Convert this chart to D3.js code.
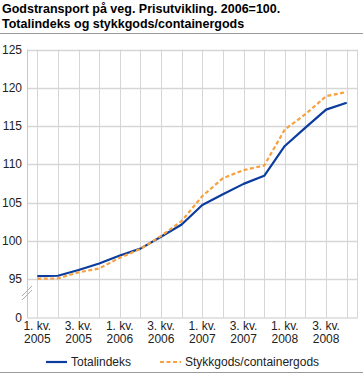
<!DOCTYPE html>
<html><head><meta charset="utf-8">
<script src="https://cdn.jsdelivr.net/npm/d3@7"></script>
<style>body{margin:0;background:#fff}svg{display:block;font-family:"Liberation Sans",Arial,sans-serif}</style>
</head><body><svg id="c" width="363" height="375"></svg>
<script>
const quarters = ["2005Q1","2005Q2","2005Q3","2005Q4","2006Q1","2006Q2","2006Q3","2006Q4","2007Q1","2007Q2","2007Q3","2007Q4","2008Q1","2008Q2","2008Q3","2008Q4"];
const tickLabels = {"2005Q1":["1. kv.","2005"],"2005Q3":["3. kv.","2005"],"2006Q1":["1. kv.","2006"],"2006Q3":["3. kv.","2006"],"2007Q1":["1. kv.","2007"],"2007Q3":["3. kv.","2007"],"2008Q1":["1. kv.","2008"],"2008Q3":["3. kv.","2008"]};
const totalindeks = [95.4,95.45,96.2,97.05,98.1,99.0,100.55,102.15,104.7,106.1,107.45,108.5,112.4,114.8,117.15,118.05];
const stykkgods = [95.05,95.1,95.9,96.4,97.8,98.95,100.65,102.6,105.85,108.2,109.25,109.85,114.55,116.55,118.9,119.45];
const yTicks = [95,100,105,110,115,120,125];
const seriesNames = ["Totalindeks","Stykkgods/containergods"];
const colors = ["#0b3c9e","#f7a040"];

const svg = d3.select("#c");
const L = 27, R = 357, T = 49.5, B = 317.5;
const x = d3.scaleBand().domain(quarters).range([L, R]);
const xc = q => x(q) + x.bandwidth()/2;
const step = (B - T) / 7;
const yLin = d3.scaleLinear().domain([95,125]).range([B - step, T]);
const y = v => yLin(v);

// title
const title = svg.append("g").attr("font-weight","bold").attr("font-size","12.5px").attr("fill","#000");
title.append("text").attr("x",2).attr("y",12.5).text("Godstransport på veg. Prisutvikling. 2006=100.");
title.append("text").attr("x",2).attr("y",27.5).text("Totalindeks og stykkgods/containergods");
svg.append("line").attr("x1",0).attr("x2",363).attr("y1",33.5).attr("y2",33.5).attr("stroke","#9a9a9a").attr("stroke-width",1);

// gridlines
const grid = svg.append("g");
grid.selectAll("line.v").data(quarters).join("line")
  .attr("x1",d=>Math.round(xc(d))+0.5).attr("x2",d=>Math.round(xc(d))+0.5)
  .attr("y1",T).attr("y2",B).attr("stroke","#d6d6d6");
grid.append("line").attr("x1",R+0.5).attr("x2",R+0.5).attr("y1",T).attr("y2",B).attr("stroke","#d6d6d6");
grid.selectAll("line.h").data(yTicks).join("line")
  .attr("x1",L).attr("x2",R).attr("y1",d=>Math.round(y(d))+0.5).attr("y2",d=>Math.round(y(d))+0.5)
  .attr("stroke","#d6d6d6").attr("stroke-width",1.5);
svg.append("line").attr("x1",L+0.5).attr("x2",L+0.5).attr("y1",T).attr("y2",B).attr("stroke","#c8c8c8");
svg.append("line").attr("x1",L).attr("x2",R+1).attr("y1",B+0.5).attr("y2",B+0.5).attr("stroke","#c8c8c8");
// axis break
[0,4].forEach(o=>{
  svg.append("line").attr("x1",22).attr("y1",296+o).attr("x2",32).attr("y2",286+o).attr("stroke","#b0b0b0").attr("stroke-width",1);
});

// y labels
const yl = svg.append("g").attr("font-size","12px").attr("fill","#222").attr("text-anchor","end");
yTicks.forEach(t=>yl.append("text").attr("x",22).attr("y",y(t)+4).text(t));
yl.append("text").attr("x",22).attr("y",B+4).text("0");

// x labels
const xl = svg.append("g").attr("font-size","12px").attr("fill","#222").attr("text-anchor","middle");
Object.keys(tickLabels).forEach(q=>{
  const t = xl.append("text").attr("x",xc(q)).attr("y",330);
  t.append("tspan").attr("x",xc(q)).text(tickLabels[q][0]);
  t.append("tspan").attr("x",xc(q)).attr("dy",12.5).text(tickLabels[q][1]);
});

// lines
const line = d3.line().x((d,i)=>xc(quarters[i])).y(d=>y(d));
svg.append("path").attr("d",line(totalindeks)).attr("fill","none").attr("stroke",colors[0]).attr("stroke-width",2.2).attr("stroke-linejoin","round");
svg.append("path").attr("d",line(stykkgods)).attr("fill","none").attr("stroke",colors[1]).attr("stroke-width",2.2).attr("stroke-dasharray","4,2.5");

// legend
const lg = svg.append("g").attr("font-size","12px").attr("fill","#222");
lg.append("line").attr("x1",46).attr("x2",67).attr("y1",362).attr("y2",362).attr("stroke",colors[0]).attr("stroke-width",2.2);
lg.append("text").attr("x",71).attr("y",366).text(seriesNames[0]);
lg.append("line").attr("x1",160).attr("x2",181).attr("y1",362).attr("y2",362).attr("stroke",colors[1]).attr("stroke-width",2.2).attr("stroke-dasharray","4,2.5");
lg.append("text").attr("x",185).attr("y",366).text(seriesNames[1]);
svg.append("line").attr("x1",0).attr("x2",363).attr("y1",372.5).attr("y2",372.5).attr("stroke","#9a9a9a");
</script></body></html>
